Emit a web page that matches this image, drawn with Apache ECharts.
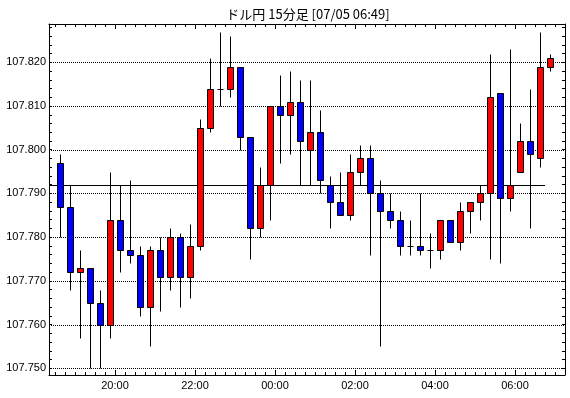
<!DOCTYPE html>
<html>
<head>
<meta charset="utf-8">
<script src="https://cdn.jsdelivr.net/npm/echarts@6.0.0/dist/echarts.min.js"></script>
<style>
  html, body { margin: 0; padding: 0; background: #fff; }
  #chart { width: 570px; height: 398px; }
</style>
</head>
<body>
<div id="chart"></div>
<script>
// 15分足 (ローソク足の開始時刻)
const times = [
  '18:30', '18:45', '19:00', '19:15', '19:30', '19:45', '20:00', '20:15', '20:30', '20:45',
  '21:00', '21:15', '21:30', '21:45', '22:00', '22:15', '22:30', '22:45', '23:00', '23:15',
  '23:30', '23:45', '00:00', '00:15', '00:30', '00:45', '01:00', '01:15', '01:30', '01:45',
  '02:00', '02:15', '02:30', '02:45', '03:00', '03:15', '03:30', '03:45', '04:00', '04:15',
  '04:30', '04:45', '05:00', '05:15', '05:30', '05:45', '06:00', '06:15', '06:30', '06:45',
]
const openP = [
  107.797, 107.787, 107.772, 107.773, 107.765, 107.760, 107.784, 107.777, 107.776, 107.764,
  107.777, 107.771, 107.780, 107.771, 107.778, 107.805, 107.814, 107.814, 107.819, 107.803,
  107.782, 107.792, 107.810, 107.808, 107.811, 107.800, 107.804, 107.792, 107.788, 107.785,
  107.795, 107.798, 107.790, 107.786, 107.784, 107.778, 107.778, 107.777, 107.777, 107.784,
  107.779, 107.786, 107.788, 107.790, 107.813, 107.789, 107.795, 107.802, 107.798, 107.819,
]
const highP = [
  107.799, 107.792, 107.777, 107.773, 107.768, 107.795, 107.792, 107.793, 107.778, 107.778,
  107.780, 107.782, 107.781, 107.783, 107.807, 107.821, 107.827, 107.826, 107.819, 107.803,
  107.796, 107.810, 107.817, 107.818, 107.816, 107.816, 107.809, 107.794, 107.795, 107.799,
  107.801, 107.801, 107.793, 107.790, 107.786, 107.784, 107.790, 107.781, 107.784, 107.784,
  107.788, 107.788, 107.792, 107.822, 107.813, 107.823, 107.806, 107.814, 107.827, 107.822,
]
const lowP = [
  107.780, 107.768, 107.757, 107.750, 107.750, 107.757, 107.772, 107.774, 107.762, 107.755,
  107.763, 107.768, 107.764, 107.766, 107.777, 107.804, 107.810, 107.812, 107.800, 107.775,
  107.780, 107.784, 107.797, 107.799, 107.792, 107.792, 107.790, 107.782, 107.785, 107.784,
  107.792, 107.776, 107.755, 107.782, 107.776, 107.776, 107.776, 107.773, 107.775, 107.779,
  107.777, 107.781, 107.784, 107.775, 107.774, 107.786, 107.795, 107.782, 107.796, 107.818,
]
const closeP = [
  107.787, 107.772, 107.773, 107.765, 107.760, 107.784, 107.777, 107.776, 107.764, 107.777,
  107.771, 107.780, 107.771, 107.778, 107.805, 107.814, 107.814, 107.819, 107.803, 107.782,
  107.792, 107.810, 107.808, 107.811, 107.802, 107.804, 107.793, 107.788, 107.785, 107.795,
  107.798, 107.790, 107.786, 107.784, 107.778, 107.778, 107.777, 107.777, 107.784, 107.779,
  107.786, 107.788, 107.790, 107.812, 107.789, 107.792, 107.802, 107.799, 107.819, 107.821,
]
// 基準線（水平の実線）
const refLevel = [107.792]
const refLineEnd = ['06:45']
// 目盛ラベル
const xLabels = ['20:00', '22:00', '00:00', '02:00', '04:00', '06:00']
const yLabels = [107.750, 107.760, 107.770, 107.780, 107.790, 107.800, 107.810, 107.820]

const title = 'ドル円 15分足 [07/05 06:49]'

// 時刻 → 18:00 からの分
function toMin(t) {
  let h = parseInt(t.slice(0, 2), 10)
  const m = parseInt(t.slice(3, 5), 10)
  if (h < 18) h += 24
  return (h - 18) * 60 + m
}
function fmtTime(v) {
  const h = (18 + Math.floor(v / 60)) % 24
  const m = Math.round(v % 60)
  return (h < 10 ? '0' : '') + h + ':' + (m < 10 ? '0' : '') + m
}

const xMin = 21
const xMax = 795
const yMin = 107.74847
const yMax = 107.82876

// 15分ごとの目盛
const minorX = []
for (let v = 30; v < xMax; v += 15) minorX.push(v)
const minorY = []
for (let v = 107750; v <= 107828; v += 2) minorY.push(v / 1000)
const majorX = xLabels.map(toMin)

const candleData = times.map((t, i) => [toMin(t) + 7.5, openP[i], closeP[i], lowP[i], highP[i]])

const myChart = echarts.init(document.getElementById('chart'))

function xAxisDef(pos, ticks, len, showLine, showLabel) {
  return {
    type: 'value',
    position: pos,
    min: xMin,
    max: xMax,
    axisLine: { show: showLine, onZero: false, lineStyle: { color: '#000', width: 1 } },
    axisTick: { show: true, inside: true, length: len, customValues: ticks, lineStyle: { color: '#000' } },
    axisLabel: {
      show: showLabel,
      customValues: majorX,
      margin: 5,
      color: '#000',
      fontFamily: 'Liberation Sans',
      fontSize: 11,
      formatter: fmtTime,
    },
    splitLine: { show: false },
  }
}
function yAxisDef(pos, showLabel) {
  return {
    type: 'value',
    position: pos,
    min: yMin,
    max: yMax,
    axisLine: { show: true, lineStyle: { color: '#000', width: 1 } },
    axisTick: { show: true, inside: true, length: 3, customValues: minorY, lineStyle: { color: '#000' } },
    axisLabel: {
      show: showLabel,
      customValues: yLabels,
      margin: 3,
      color: '#000',
      fontFamily: 'Liberation Sans',
      fontSize: 11,
      formatter: (v) => v.toFixed(3),
    },
    splitLine: { show: false },
  }
}

// 水平線（ピクセルに揃えてくっきり描く）
function hLine(api, params, y, x1, x2, dash) {
  const cs = params.coordSys
  const py = Math.round(api.coord([xMin, y])[1]) + 0.5
  return {
    type: 'line',
    shape: { x1: x1 == null ? cs.x : x1, y1: py, x2: x2 == null ? cs.x + cs.width : x2, y2: py },
    style: { stroke: '#000', lineWidth: 1, lineDash: dash },
  }
}

const option = {
  animation: false,
  backgroundColor: '#fff',
  grid: { left: 49, right: 5, top: 24, bottom: 23, containLabel: false },
  graphic: [
    {
      type: 'text',
      x: 308,
      y: 14,
      style: {
        text: title,
        align: 'center',
        verticalAlign: 'middle',
        fill: '#000',
        font: '13px "Noto Sans CJK JP"',
      },
    },
  ],
  xAxis: [
    xAxisDef('bottom', majorX, 5, true, true),
    xAxisDef('bottom', minorX, 3, false, false),
    xAxisDef('top', majorX, 5, true, false),
    xAxisDef('top', minorX, 3, false, false),
  ],
  yAxis: [yAxisDef('left', true), yAxisDef('right', false)],
  series: [
    {
      // 点線グリッド
      type: 'custom',
      xAxisIndex: 0,
      yAxisIndex: 0,
      silent: true,
      z: 1,
      data: yLabels.map((v) => [xMin, v]),
      renderItem: (params, api) => hLine(api, params, api.value(1), null, null, [1, 1]),
    },
    {
      // 基準線
      type: 'custom',
      xAxisIndex: 0,
      yAxisIndex: 0,
      silent: true,
      z: 2,
      data: refLevel.map((v, i) => [toMin(refLineEnd[i]), v]),
      renderItem: (params, api) => {
        const xEnd = Math.round(api.coord([api.value(0), api.value(1)])[0])
        return hLine(api, params, api.value(1), null, xEnd, null)
      },
    },
    {
      type: 'custom',
      xAxisIndex: 0,
      yAxisIndex: 0,
      data: candleData,
      z: 3,
      renderItem: (params, api) => {
        const x = api.value(0)
        const o = api.coord([x, api.value(1)])
        const c = api.coord([x, api.value(2)])
        const l = api.coord([x, api.value(3)])
        const h = api.coord([x, api.value(4)])
        const cx = Math.round(o[0]) + 0.5
        const yo = Math.round(o[1]) + 0.5
        const yc = Math.round(c[1]) + 0.5
        const yl = Math.round(l[1]) + 0.5
        const yh = Math.round(h[1]) + 0.5
        const children = [
          {
            type: 'line',
            shape: { x1: cx, y1: yh, x2: cx, y2: yl },
            style: { stroke: '#000', lineWidth: 1 },
          },
        ]
        if (Math.abs(yo - yc) < 1) {
          children.push({
            type: 'line',
            shape: { x1: cx - 3, y1: yo, x2: cx + 3, y2: yo },
            style: { stroke: '#000', lineWidth: 1 },
          })
        } else {
          const up = api.value(2) > api.value(1)
          children.push({
            type: 'rect',
            shape: { x: cx - 3, y: Math.min(yo, yc), width: 6, height: Math.abs(yo - yc) },
            style: { fill: up ? '#ff0000' : '#0000ff', stroke: '#000', lineWidth: 1 },
          })
        }
        return { type: 'group', children: children }
      },
    },
  ],
}
myChart.setOption(option)
</script>
</body>
</html>
